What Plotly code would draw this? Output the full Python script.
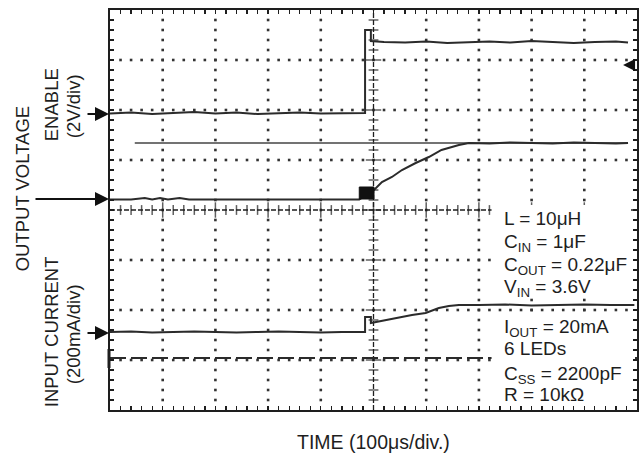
import plotly.graph_objects as go
import numpy as np

# ---------------- data (time in µs at 100 µs/div, amplitude in screen divisions) -------------
enable_t = [0, 40, 80, 120, 160, 200, 240, 280, 320, 360, 400, 440, 470, 484, 484, 495, 495,
            520, 560, 600, 640, 680, 720, 760, 800, 840, 880, 920, 960, 983]
enable_v = [5.93, 5.95, 5.92, 5.94, 5.96, 5.93, 5.95, 5.92, 5.94, 5.95, 5.93, 5.94, 5.94, 5.94, 7.60,
            7.60, 7.38, 7.36, 7.35, 7.37, 7.34, 7.36, 7.37, 7.35, 7.38, 7.36, 7.34, 7.36, 7.37, 7.35]

vout_t = [0, 40, 66, 80, 95, 110, 132, 150, 200, 250, 300, 340, 380, 420, 473, 501, 516, 535, 554,
          580, 605, 629, 648, 662, 681, 720, 760, 800, 840, 880, 920, 960, 983]
vout_v = [4.21, 4.21, 4.24, 4.21, 4.24, 4.21, 4.24, 4.21, 4.21, 4.21, 4.20, 4.21, 4.20, 4.21, 4.21,
          4.40, 4.56, 4.66, 4.80, 4.94, 5.06, 5.20, 5.26, 5.30, 5.34, 5.33, 5.35, 5.34, 5.33, 5.35,
          5.34, 5.33, 5.34]

burst_t = [473, 501, 501, 473, 473]
burst_v = [4.22, 4.22, 4.46, 4.46, 4.22]

vref_t = [47, 983]
vref_v = [5.34, 5.34]

iin_t = [0, 40, 80, 120, 160, 200, 240, 280, 320, 360, 400, 440, 484, 484, 495, 495, 524, 548,
         573, 599, 624, 643, 662, 700, 750, 800, 850, 900, 950, 995]
iin_v = [1.56, 1.57, 1.55, 1.56, 1.57, 1.56, 1.55, 1.56, 1.57, 1.56, 1.55, 1.56, 1.56, 1.86, 1.86,
         1.74, 1.80, 1.86, 1.90, 1.94, 2.04, 2.08, 2.10, 2.10, 2.11, 2.09, 2.10, 2.11, 2.10, 2.10]

zero_t = [0, 1000]
zero_v = [1.04, 1.04]

x_divs = 10
y_divs = 8
us_per_div = 100

# ---------------- styling helpers ----------------
PL, PR, PT, PB = 110, 639, 10, 410
W, H = 644, 457
ink = "#1e1e1e"
trace_col = "#2b2b2b"
font = "Liberation Sans, Arial, sans-serif"


def px(x):
    return (x - PL) / (PR - PL)


def py(y):
    return (PB - y) / (PB - PT)


fig = go.Figure()

# dotted graticule
gx, gy = [], []
for d in range(1, x_divs):
    if d == x_divs // 2:
        continue
    for v in np.arange(0.2, y_divs, 0.2):
        gx.append(d * us_per_div)
        gy.append(v)
for d in range(1, y_divs):
    if d == y_divs // 2:
        continue
    for t in np.arange(20, x_divs * us_per_div, 20):
        gx.append(t)
        gy.append(d)
fig.add_trace(go.Scatter(x=gx, y=gy, mode="markers", hoverinfo="skip",
                         marker=dict(symbol="square", size=2.6, color="#333333", line_width=0)))

# centre axes with tick crosses
cx = x_divs * us_per_div / 2
cy = y_divs / 2
fig.add_trace(go.Scatter(x=[0, x_divs * us_per_div], y=[cy, cy], mode="lines", hoverinfo="skip",
                         line=dict(color=ink, width=1.5, dash="5px,2px")))
fig.add_trace(go.Scatter(x=[cx, cx], y=[0, y_divs], mode="lines", hoverinfo="skip",
                         line=dict(color=ink, width=1.3, dash="5px,2px")))
tx = np.arange(20, x_divs * us_per_div, 20)
fig.add_trace(go.Scatter(x=tx, y=[cy] * len(tx), mode="markers", hoverinfo="skip",
                         marker=dict(symbol="line-ns", size=[11 if round(t) % 100 == 0 else 7 for t in tx],
                                     line=dict(color=ink, width=1.5))))
ty = np.arange(0.2, y_divs, 0.2)
fig.add_trace(go.Scatter(x=[cx] * len(ty), y=ty, mode="markers", hoverinfo="skip",
                         marker=dict(symbol="line-ew", size=[11 if abs(v - round(v)) < 1e-6 else 7 for v in ty],
                                     line=dict(color=ink, width=1.5))))

# signal traces
fig.add_trace(go.Scatter(x=vref_t, y=vref_v, mode="lines", hoverinfo="skip",
                         line=dict(color="#444444", width=1.6)))
fig.add_trace(go.Scatter(x=zero_t, y=zero_v, mode="lines", hoverinfo="skip",
                         line=dict(color=trace_col, width=2, dash="16px,5px")))
fig.add_trace(go.Scatter(x=enable_t, y=enable_v, mode="lines", hoverinfo="skip",
                         line=dict(color=trace_col, width=2)))
fig.add_trace(go.Scatter(x=vout_t, y=vout_v, mode="lines", hoverinfo="skip",
                         line=dict(color=trace_col, width=2)))
fig.add_trace(go.Scatter(x=burst_t, y=burst_v, mode="lines", fill="toself", fillcolor="#111111",
                         hoverinfo="skip", line=dict(color="#111111", width=1)))
fig.add_trace(go.Scatter(x=iin_t, y=iin_v, mode="lines", hoverinfo="skip",
                         line=dict(color=trace_col, width=2)))

shapes = [
    # white boxes behind the condition text
    dict(type="rect", xref="paper", yref="paper", x0=px(493), x1=px(633), y0=py(298), y1=py(205),
         fillcolor="white", line_width=0, layer="above"),
    dict(type="rect", xref="paper", yref="paper", x0=px(493), x1=px(633), y0=py(405), y1=py(314),
         fillcolor="white", line_width=0, layer="above"),
    # left marker bar of the current channel
    dict(type="line", xref="paper", yref="paper", x0=px(109), x1=px(109), y0=py(368), y1=py(349),
         line=dict(color=ink, width=3), layer="above"),
]

ann = []


def label(text, x, y, angle=0, size=18, anchor="center"):
    ann.append(dict(text=text, xref="paper", yref="paper", x=px(x), y=py(y), showarrow=False,
                    textangle=angle, xanchor=anchor, yanchor="middle",
                    font=dict(family=font, size=size, color=ink)))


label("ENABLE", 51, 105, -90, size=18.5)
label("(2V/div)", 73, 106, -90, size=18.5)
label("OUTPUT VOLTAGE", 23, 188, -90, size=18.5)
label("INPUT CURRENT", 51, 332, -90, size=18.5)
label("(200mA/div)", 73, 334, -90, size=18.5)
label("TIME (100μs/div.)", 375, 442, size=19.5)

cond = [
    ("L = 10μH", 218),
    ("C<sub>IN</sub> = 1μF", 243),
    ("C<sub>OUT</sub> = 0.22μF", 266),
    ("V<sub>IN</sub> = 3.6V", 288),
    ("I<sub>OUT</sub> = 20mA", 328),
    ("6 LEDs", 348),
    ("C<sub>SS</sub> = 2200pF", 375),
    ("R = 10kΩ", 394),
]
for t, yy in cond:
    label(t, 503, yy, size=19, anchor="left")

# channel arrows
for x0, yy in [(86, 114), (34, 199), (86, 333)]:
    ann.append(dict(text="", xref="paper", yref="paper", x=px(109), y=py(yy), ax=x0 - 109, ay=0,
                    showarrow=True, arrowhead=2, arrowsize=1.4, arrowwidth=2, arrowcolor="#111111"))
ann.append(dict(text="", xref="paper", yref="paper", x=px(625), y=py(65), ax=10, ay=0,
                showarrow=True, arrowhead=2, arrowsize=1.2, arrowwidth=2, arrowcolor="#111111"))

axis_common = dict(showgrid=False, zeroline=False, showline=True, linecolor=ink, linewidth=2,
                   mirror="allticks", ticks="inside", ticklen=4, tickwidth=1.3, tickcolor=ink,
                   showticklabels=False, fixedrange=True)

fig.update_layout(
    width=W, height=H,
    margin=dict(l=PL, r=W - PR, t=PT, b=H - PB),
    paper_bgcolor="white", plot_bgcolor="white",
    showlegend=False,
    xaxis=dict(range=[0, x_divs * us_per_div], dtick=20, tick0=0, **axis_common),
    yaxis=dict(range=[0, y_divs], dtick=0.2, tick0=0, **axis_common),
    shapes=shapes,
    annotations=ann,
)

fig.write_html("out.html", config={"staticPlot": True},
               post_script="document.body.style.margin='0px';document.body.style.overflow='hidden';")
